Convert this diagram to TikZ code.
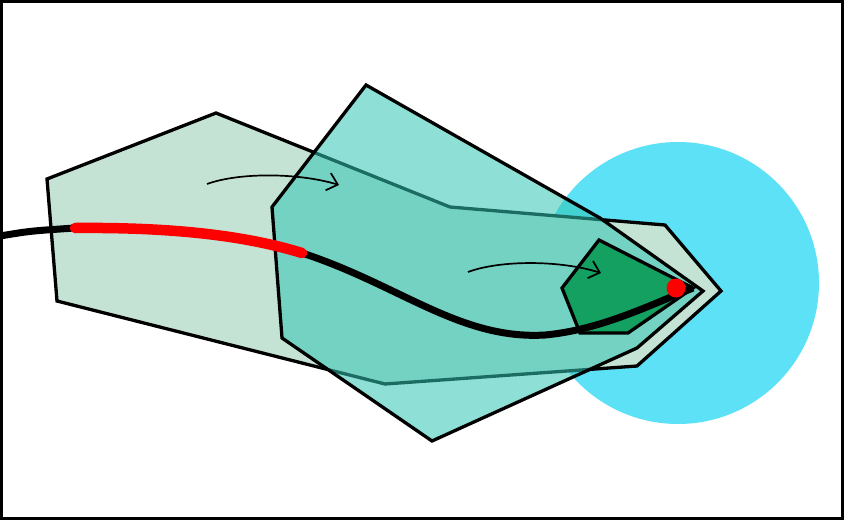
\documentclass[tikz,border=0pt]{standalone}
\usetikzlibrary{arrows.meta}
\definecolor{cyanc}{RGB}{92,225,247}
\definecolor{lightg}{RGB}{197,227,213}
\definecolor{tealc}{RGB}{50,197,179}
\definecolor{darkg}{RGB}{19,160,96}
\tikzset{
  poly/.style={draw=black,line width=3.3pt,line join=miter},
  flow/.style={draw=black,line width=1.7pt,-{Straight Barb[length=10pt,width=18pt,line width=1.7pt]}},
  route/.style={draw=black,line width=7pt},
  hot/.style={draw=red,line width=10.5pt,line cap=round}
}
\begin{document}
\begin{tikzpicture}[x=1pt,y=-1pt]
\useasboundingbox (0,0) rectangle (844,520);
\fill[white] (0,0) rectangle (844,520);
% circle
\fill[cyanc] (678,283) circle (141);
% light green polygon
\draw[poly,fill=lightg] (47,179) -- (216,113) -- (450,207) -- (665,225) -- (721,291) -- (637,366) -- (385,384) -- (57,301) -- cycle;
% teal polygon
\draw[poly,fill=tealc,fill opacity=0.55] (366,85) -- (600,218) -- (703,291) -- (637,348) -- (432,441) -- (282,338) -- (272,207) -- cycle;
% dark green pentagon
\draw[poly,fill=darkg] (599,240) -- (693,288) -- (628,333) -- (580,333) -- (562,288) -- cycle;
% route
\coordinate (s) at (0,236);
\coordinate (r1) at (75,228);
\coordinate (r2) at (302,253);
\coordinate (m) at (545,335);
\coordinate (e) at (693,288);
\draw[route] (s) .. controls (30,231) .. (r1) .. controls (180,227) and (250,237) .. (r2)
  .. controls (400,285) and (460,340) .. (m) .. controls (600,330) and (650,305) .. (e);
\draw[hot] (r1) .. controls (180,227) and (250,237) .. (r2);
\fill[red] (676,288) circle (9.5);
% arrows
\coordinate (a1s) at (207,184);
\coordinate (a1e) at (339,185);
\coordinate (a2s) at (468,272);
\coordinate (a2e) at (601,273);
\draw[flow] (a1s) .. controls (240,172) and (300,173) .. (a1e);
\draw[flow] (a2s) .. controls (500,260) and (560,260) .. (a2e);
% frame
\draw[black,line width=3pt] (1.5,1.5) rectangle (842.5,518.5);
\end{tikzpicture}
\end{document}
